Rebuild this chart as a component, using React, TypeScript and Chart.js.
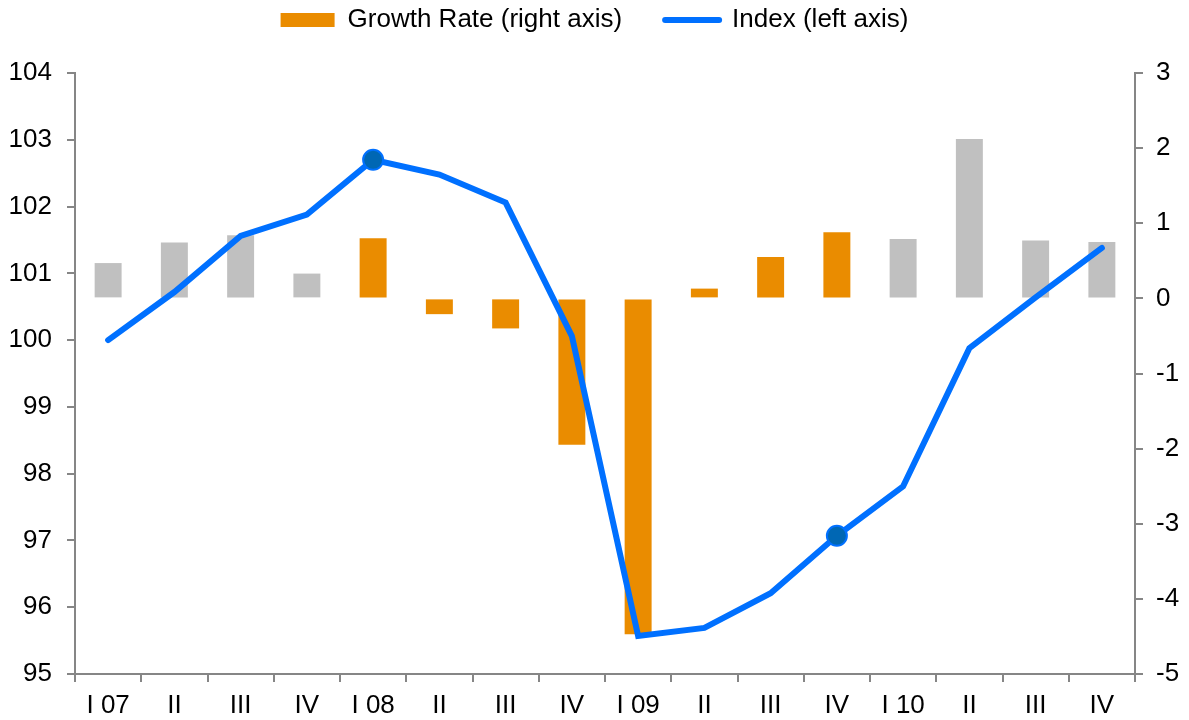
import React, { useEffect, useRef } from "react";
import { Chart, registerables } from "chart.js";

Chart.register(...registerables);

const categories = ["I 07", "II", "III", "IV", "I 08", "II", "III", "IV", "I 09", "II", "III", "IV", "I 10", "II", "III", "IV"];
const growthRate = [0.47, 0.745, 0.84, 0.33, 0.8, -0.21, -0.4, -1.95, -4.47, 0.13, 0.55, 0.88, 0.79, 2.12, 0.77, 0.75];
const indexValues = [100.0, 100.72, 101.56, 101.88, 102.7, 102.48, 102.06, 100.06, 95.57, 95.69, 96.21, 97.07, 97.81, 99.88, 100.64, 101.38];
const highlighted = [4, 11];
const forecastYears = ["07", "10"];

const ORANGE = "#EA8C00";
const GRAY = "#C0C0C0";
const BLUE = "#0070FF";
const DARK_BLUE = "#0067B4";
const AXIS = "#868686";

export default function App() {
  const ref = useRef<HTMLCanvasElement | null>(null);

  useEffect(() => {
    if (!ref.current) return;
    Chart.defaults.font.family = "'Liberation Sans', Arial, sans-serif";
    let year = "";
    const barColors = categories.map((c) => {
      const m = c.match(/\d\d$/);
      if (m) year = m[0];
      return forecastYears.includes(year) ? GRAY : ORANGE;
    });

    const legendSpacer = {
      id: "legendSpacer",
      beforeInit(chart: any) {
        const legend = chart.legend;
        if (!legend) return;
        const orig = legend.fit;
        legend.fit = function () {
          orig.call(this);
          this.height = 109;
        };
      },
    };

    const chart = new Chart(ref.current, {
      type: "bar",
      data: {
        labels: categories,
        datasets: [
          {
            type: "line",
            label: "Index (left axis)",
            data: indexValues,
            yAxisID: "y",
            borderColor: BLUE,
            borderWidth: 6,
            borderCapStyle: "round",
            tension: 0,
            pointRadius: indexValues.map((_, i) => (highlighted.includes(i) ? 10 : 0)),
            pointHoverRadius: indexValues.map((_, i) => (highlighted.includes(i) ? 10 : 0)),
            pointBackgroundColor: DARK_BLUE,
            pointBorderColor: BLUE,
            pointBorderWidth: 2,
            order: 0,
          } as any,
          {
            type: "bar",
            label: "Growth Rate (right axis)",
            data: growthRate,
            yAxisID: "y1",
            backgroundColor: barColors,
            borderWidth: 0,
            barPercentage: 0.407,
            categoryPercentage: 1,
            order: 1,
          } as any,
        ],
      },
      options: {
        animation: false,
        responsive: false,
        maintainAspectRatio: false,
        layout: { padding: { top: -36, left: 0, right: 0, bottom: 0 } },
        plugins: {
          tooltip: { enabled: false },
          legend: {
            display: true,
            position: "top",
            labels: {
              usePointStyle: true,
              pointStyleWidth: 54,
              boxHeight: 14,
              padding: 43,
              color: "#000",
              font: { size: 26 },
              generateLabels: () => [
                {
                  text: "Growth Rate (right axis)",
                  fillStyle: ORANGE,
                  strokeStyle: ORANGE,
                  lineWidth: 0,
                  pointStyle: "rect",
                  datasetIndex: 1,
                  hidden: false,
                } as any,
                {
                  text: "Index (left axis)",
                  fillStyle: BLUE,
                  strokeStyle: BLUE,
                  lineWidth: 6,
                  lineCap: "round",
                  pointStyle: "line",
                  datasetIndex: 0,
                  hidden: false,
                } as any,
              ],
            },
          },
        },
        scales: {
          x: {
            offset: true,
            grid: {
              offset: true,
              drawOnChartArea: false,
              drawTicks: true,
              tickLength: 8,
              color: AXIS,
              lineWidth: 2,
            },
            border: { display: true, color: AXIS, width: 2 },
            ticks: { color: "#000", font: { size: 26 }, padding: 8, maxRotation: 0, autoSkip: false },
            afterFit(scale: any) {
              scale.height = 46;
            },
          },
          y: {
            position: "left",
            min: 95,
            max: 104,
            ticks: { stepSize: 1, color: "#000", font: { size: 26 }, padding: 15 },
            grid: { drawOnChartArea: false, tickLength: 8, color: AXIS, lineWidth: 2 },
            border: { display: true, color: AXIS, width: 2 },
            afterFit(scale: any) {
              scale.width = 75;
            },
          },
          y1: {
            position: "right",
            min: -5,
            max: 3,
            ticks: { stepSize: 1, color: "#000", font: { size: 26 }, padding: 13 },
            grid: { drawOnChartArea: false, tickLength: 8, color: AXIS, lineWidth: 2 },
            border: { display: true, color: AXIS, width: 2 },
            afterFit(scale: any) {
              scale.width = 54;
            },
          },
        },
      },
      plugins: [legendSpacer],
    });
    return () => chart.destroy();
  }, []);

  return (
    <div style={{ position: "absolute", left: 0, top: 0, width: 1189, height: 720, background: "#fff" }}>
      <canvas ref={ref} width={1189} height={720} style={{ width: 1189, height: 720, display: "block" }} />
    </div>
  );
}
